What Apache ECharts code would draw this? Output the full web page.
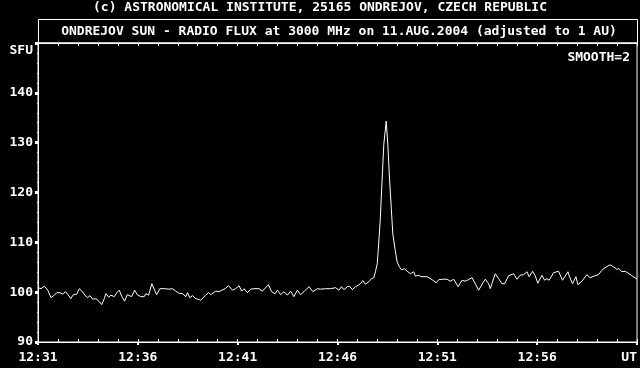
<!DOCTYPE html>
<html>
<head>
<meta charset="utf-8">
<script src="https://cdn.jsdelivr.net/npm/echarts@6/dist/echarts.min.js"></script>
<style>
html,body{margin:0;padding:0;background:#000;}
#chart{width:640px;height:368px;}
</style>
</head>
<body>
<div id="chart"></div>
<script>
// Time in minutes after 12:31 UT
var minutes = [
0,0.15,0.32,0.49,0.65,0.82,0.94,1.10,1.24,1.37,1.50,1.64,1.77,1.94,2.07,2.20,2.37,2.49,2.60,2.74,2.90,3.07,3.19,3.32,3.40,3.54,3.65,3.82,3.95,4.07,4.20,4.34,4.47,4.57,4.69,4.84,4.97,
5.15,5.32,5.40,5.54,5.70,5.94,6.10,6.35,6.55,6.74,6.90,7.05,7.15,7.24,7.40,7.49,7.60,7.74,7.90,8.15,8.40,8.54,8.65,8.90,9.07,9.15,9.37,9.54,9.74,9.90,10.07,
10.20,10.32,10.49,10.65,10.82,11.07,11.24,11.54,11.70,11.87,11.99,12.15,12.32,12.49,12.65,12.82,12.99,13.15,13.32,13.57,13.77,13.99,14.15,14.40,14.65,14.90,
15.07,15.20,15.32,15.49,15.60,15.74,15.90,16.04,16.15,16.27,16.40,16.57,16.70,16.82,16.90,16.99,17.04,17.14,17.24,17.32,17.44,17.52,17.60,17.69,17.77,17.89,17.99,18.10,18.20,18.35,18.49,18.65,18.82,18.90,19.04,19.20,19.50,19.74,19.94,20.07,
20.15,20.27,20.37,20.49,20.65,20.82,21.04,21.24,21.40,21.55,21.74,21.82,22.07,22.32,22.40,22.57,22.65,22.90,23.07,23.24,23.37,23.57,23.82,23.99,24.15,24.32,24.49,24.60,24.77,24.90,25.03,
25.24,25.37,25.49,25.60,25.82,26.07,26.27,26.54,26.60,26.77,26.94,27.04,27.24,27.32,27.49,27.65,27.90,28.07,28.24,28.40,28.65,28.82,28.99,29.10,29.24,29.40,29.49,29.60,29.74,29.90,29.99
];
// Radio flux in SFU
var flux = [
100.9,100.7,101.2,100.4,98.9,99.4,99.9,99.9,99.6,100.1,99.5,98.7,99.5,99.6,100.7,100.2,99.3,98.9,99.3,98.6,98.7,98.1,97.5,98.7,99.7,99.0,99.4,99.1,99.9,100.4,99.1,98.2,99.5,99.9,99.1,100.4,99.5,
99.1,99.1,99.7,99.4,101.7,99.5,100.7,100.7,100.6,100.7,100.2,99.8,99.4,99.7,99.1,99.9,98.9,99.3,98.7,98.4,99.4,99.9,99.5,100.2,100.1,99.7,100.7,101.3,100.4,100.7,101.3,
100.2,100.7,99.9,100.6,100.7,100.7,100.2,101.5,100.1,99.7,100.4,99.5,100.1,99.4,100.2,99.1,100.4,99.5,100.1,101.1,100.1,100.7,100.6,100.7,100.7,100.9,
100.4,101.1,100.5,101.1,101.2,100.5,101.1,101.4,101.7,102.3,101.6,102.1,102.7,102.9,104.1,105.7,108.4,114.4,123.1,129.7,134.3,129.7,123.1,117.1,111.7,108.4,106.0,105.1,104.5,104.7,104.2,103.7,104.1,103.2,103.4,103.1,103.1,102.5,101.9,102.5,
102.4,102.6,102.2,102.6,102.2,102.6,101.1,102.4,102.2,102.5,102.9,102.6,100.4,102.1,102.6,101.7,100.7,103.7,102.7,101.7,101.7,103.3,103.7,102.6,103.4,103.5,104.1,103.1,104.2,103.3,101.8,
103.4,102.4,102.7,102.4,103.9,104.2,102.4,104.1,103.3,101.7,103.1,101.5,102.2,102.6,103.5,102.9,103.3,103.5,104.4,104.9,105.5,105.1,104.6,104.7,104.1,104.2,104.6,103.7,103.3,102.9,102.6
];
var xTickLabels = ['12:31','12:36','12:41','12:46','12:51','12:56','UT'];
var yTickLabels = ['90','100','110','120','130','140',''];
var titleTop = '(c) ASTRONOMICAL INSTITUTE, 25165 ONDREJOV, CZECH REPUBLIC';
var titleBox = 'ONDREJOV SUN - RADIO FLUX at 3000 MHz on 11.AUG.2004 (adjusted to 1 AU)';
var unitLabel = 'SFU';
var smoothLabel = 'SMOOTH=2';

var FONT = "'DejaVu Sans Mono', monospace";
var txt = {color:'#fff', fontFamily:FONT, fontSize:13, fontWeight:'bold'};

var pairs = minutes.map(function(m,i){return [m, flux[i]];});

var chart = echarts.init(document.getElementById('chart'), null, {renderer:'canvas'});
chart.setOption({
  backgroundColor:'#000',
  animation:false,
  grid:{left:38, top:43, width:600, height:299, show:true, borderColor:'#fff', borderWidth:1, backgroundColor:'transparent'},
  xAxis:[
    {type:'value', min:0, max:30, interval:5, position:'bottom',
     axisLine:{show:true, lineStyle:{color:'#fff', width:1}},
     axisTick:{show:true, inside:false, length:3, lineStyle:{color:'#fff', width:2}},
     axisLabel:Object.assign({margin:9, alignMaxLabel:'right', formatter:function(v){return xTickLabels[Math.round(v/5)];}}, txt),
     splitLine:{show:false}},
    {type:'value', min:0, max:30, interval:1, position:'bottom',
     axisLine:{show:false}, axisTick:{show:true, inside:true, length:3, lineStyle:{color:'#fff', width:1}},
     axisLabel:{show:false}, splitLine:{show:false}},
    {type:'value', min:0, max:30, interval:1, position:'top',
     axisLine:{show:true, lineStyle:{color:'#fff'}}, axisTick:{show:true, inside:true, length:3, lineStyle:{color:'#fff', width:1}},
     axisLabel:{show:false}, splitLine:{show:false}}
  ],
  yAxis:[
    {type:'value', min:90, max:150, interval:10, position:'left',
     axisLine:{show:true, lineStyle:{color:'#fff', width:1}},
     axisTick:{show:true, inside:false, length:3, lineStyle:{color:'#fff', width:3}},
     axisLabel:Object.assign({margin:5, formatter:function(v){return yTickLabels[Math.round((v-90)/10)];}}, txt),
     splitLine:{show:false}},
    {type:'value', min:90, max:150, interval:2, position:'left',
     axisLine:{show:false}, axisTick:{show:true, inside:false, length:1, lineStyle:{color:'#fff', width:1}},
     axisLabel:{show:false}, splitLine:{show:false}}
  ],
  graphic:[
    {type:'text', left:'center', top:1, style:Object.assign({text:titleTop, x:0}, {fill:'#fff', font:"bold 13px 'DejaVu Sans Mono', monospace"}), position:[0,0]},
    {type:'rect', shape:{x:38.5, y:19.5, width:599, height:23.5}, style:{fill:'none', stroke:'#fff', lineWidth:1}},
    {type:'text', style:{text:titleBox, x:339, y:32, align:'center', verticalAlign:'middle', fill:'#fff', font:"bold 13px 'DejaVu Sans Mono', monospace"}},
    {type:'text', style:{text:unitLabel, x:33, y:51, align:'right', verticalAlign:'middle', fill:'#fff', font:"bold 13px 'DejaVu Sans Mono', monospace"}},
    {type:'text', style:{text:smoothLabel, x:630, y:58, align:'right', verticalAlign:'middle', fill:'#fff', font:"bold 13px 'DejaVu Sans Mono', monospace"}}
  ],
  series:[{
    type:'line', data:pairs, xAxisIndex:0, yAxisIndex:0,
    showSymbol:false, symbol:'none', smooth:false,
    lineStyle:{color:'#fff', width:1}
  }]
});
</script>
</body>
</html>
